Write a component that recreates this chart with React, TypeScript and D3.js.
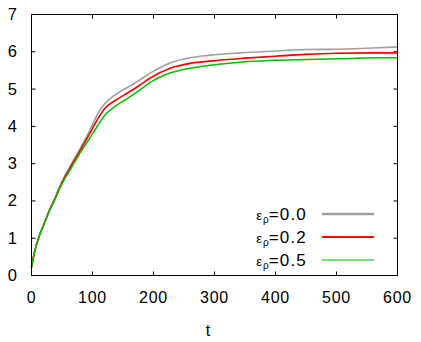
import React from "react";
import * as d3 from "d3";

const tValues = [0, 5, 13, 21, 30, 38, 46, 54, 63, 79, 93, 109, 120, 136, 158, 178, 194, 227, 260, 293, 342, 400, 450, 500, 560, 600];
const series00 = [0.22, 0.64, 1.08, 1.41, 1.78, 2.06, 2.38, 2.65, 2.92, 3.38, 3.81, 4.35, 4.61, 4.83, 5.05, 5.25, 5.42, 5.70, 5.84, 5.91, 5.97, 6.02, 6.06, 6.07, 6.10, 6.13];
const series02 = [0.22, 0.63, 1.07, 1.40, 1.77, 2.04, 2.35, 2.62, 2.88, 3.33, 3.73, 4.21, 4.48, 4.68, 4.90, 5.11, 5.29, 5.56, 5.69, 5.75, 5.82, 5.88, 5.93, 5.96, 5.97, 5.97];
const series05 = [0.22, 0.63, 1.07, 1.39, 1.75, 2.02, 2.33, 2.58, 2.82, 3.27, 3.62, 4.03, 4.30, 4.52, 4.76, 4.98, 5.17, 5.43, 5.56, 5.64, 5.72, 5.77, 5.79, 5.81, 5.84, 5.84];
const legendLabels = ["0.0", "0.2", "0.5"];
const xTicks = [0, 100, 200, 300, 400, 500, 600];
const yTicks = [0, 1, 2, 3, 4, 5, 6, 7];

const seriesList = [
  { values: series00, color: "#a0a0a0", width: 1.6, legendWidth: 2.4, label: legendLabels[0] },
  { values: series02, color: "#ff0000", width: 1.6, legendWidth: 2.2, label: legendLabels[1] },
  { values: series05, color: "#00c000", width: 1.5, legendWidth: 1.2, label: legendLabels[2] },
];

export default function App() {
  const W = 421, H = 342;
  const x = d3.scaleLinear().domain([0, 600]).range([31.5, 397.5]);
  const y = d3.scaleLinear().domain([0, 7]).range([275.5, 14.5]);
  const font = "'Liberation Sans', Arial, sans-serif";
  const tick = 4;

  const line = (vals: number[]) =>
    d3
      .line<number>()
      .x((_, i) => x(tValues[i]))
      .y((d) => y(d))
      .curve(d3.curveMonotoneX)(vals) || "";

  const legendY = [214, 237, 260];

  return (
    <svg width={W} height={H} style={{ position: "absolute", left: 0, top: 0, background: "#fff" }}>
      <rect width={W} height={H} fill="#fff" />
      {xTicks.map((t) => (
        <g key={"xt" + t}>
          <line x1={x(t)} x2={x(t)} y1={y(0)} y2={y(0) - tick} stroke="#000" />
          <line x1={x(t)} x2={x(t)} y1={y(7)} y2={y(7) + tick} stroke="#000" />
          <text x={x(t)} y={303} textAnchor="middle" fontFamily={font} fontSize={16} letterSpacing={0.8}>
            {t}
          </text>
        </g>
      ))}
      {yTicks.map((v) => (
        <g key={"yt" + v}>
          <line x1={x(0)} x2={x(0) + tick} y1={y(v)} y2={y(v)} stroke="#000" />
          <line x1={x(600)} x2={x(600) - tick} y1={y(v)} y2={y(v)} stroke="#000" />
          <text x={17} y={y(v) + 5.5} textAnchor="end" fontFamily={font} fontSize={16.5}>
            {v}
          </text>
        </g>
      ))}
      {seriesList.map((s, i) => (
        <path key={"c" + i} d={line(s.values)} fill="none" stroke={s.color} strokeWidth={s.width} />
      ))}
      <rect x={x(0)} y={y(7)} width={x(600) - x(0)} height={y(0) - y(7)} fill="none" stroke="#000" strokeWidth={1} />
      {seriesList.map((s, i) => (
        <g key={"l" + i}>
          <text x={307} y={legendY[i] + 6} textAnchor="end" fontFamily={font}>
            <tspan fontSize={13}>ε</tspan>
            <tspan fontSize={10} dy={3} dx={1}>ρ</tspan>
            <tspan fontSize={17} dy={-3} letterSpacing={1.2}>={s.label}</tspan>
          </text>
          <line x1={322} x2={374} y1={legendY[i]} y2={legendY[i]} stroke={s.color} strokeWidth={s.legendWidth} />
        </g>
      ))}
      <text x={208} y={336} textAnchor="middle" fontFamily={font} fontSize={16}>
        t
      </text>
    </svg>
  );
}
